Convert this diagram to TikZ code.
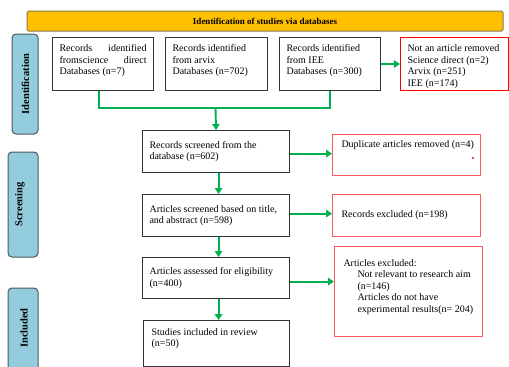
\documentclass[tikz,border=0pt]{standalone}
\usepackage{fontspec}
\setmainfont{Liberation Serif}
\usetikzlibrary{arrows.meta}
\definecolor{hdrfill}{HTML}{FFC000}
\definecolor{hdrdraw}{HTML}{8C7A4A}
\definecolor{barfill}{HTML}{93CDDD}
\definecolor{bardraw}{HTML}{4A5A60}
\definecolor{flowgreen}{HTML}{00B050}
\definecolor{boxdraw}{HTML}{333333}
\definecolor{softred}{HTML}{FF5A5A}
\newcommand\tbx[4]{\parbox[c][#2pt][t]{#1pt}{\vspace*{#3pt}#4}}
\newcommand\cbx[3]{\parbox[c][#2pt][c]{#1pt}{#3}}
\tikzset{
  every node/.style={font=\fontsize{10}{11.5}\selectfont},
  blackbox/.style={draw=boxdraw, line width=1.1pt, inner ysep=0pt, inner xsep=7pt, anchor=north west, fill=white},
  redbox/.style={draw=softred, line width=1pt, inner ysep=0pt, inner xsep=9pt, anchor=north west, fill=white},
  sidebar/.style={draw=bardraw, fill=barfill, line width=1pt, rounded corners=4pt},
  sidetext/.style={rotate=90, font=\fontsize{10.5}{12}\selectfont\bfseries},
  arr/.style={draw=flowgreen, line width=1.9pt, -{Triangle[length=6pt,width=7.5pt]}},
  link/.style={draw=flowgreen, line width=1.9pt},
}
\begin{document}
\begin{tikzpicture}[x=1pt,y=-1pt]
\useasboundingbox (0,0) rectangle (509,367);
\clip (0,0) rectangle (509,367);
% header
\node[draw=hdrdraw, fill=hdrfill, line width=1pt, rounded corners=1.5pt, minimum width=476pt, minimum height=20pt, inner sep=0pt, font=\fontsize{9}{10}\selectfont\bfseries] (hdr) at (265,21) {Identification of studies via databases};
% side bars
\draw[sidebar] (12,34) rectangle (38,134);
\node[sidetext] (idt) at (25.5,84) {Identification};
\draw[sidebar] (8,152) rectangle (38,257);
\node[sidetext] (scr) at (20,204.5) {Screening};
\draw[sidebar] (8,288) rectangle (38,390);
\node[sidetext] (inc) at (24,328) {Included};
% identification boxes
\node[blackbox] (b1) at (52,37) {\tbx{87}{53}{7.2}{Records identified\linebreak fromscience direct\linebreak Databases (n=7)}};
\node[blackbox] (b2) at (165,37) {\tbx{88}{53}{7.2}{\raggedright Records identified\\ from arvix\\ Databases (n=702)}};
\node[blackbox] (b3) at (279,37) {\tbx{87}{53}{7.2}{\raggedright Records identified\\ from IEE\\ Databases (n=300)}};
\node[redbox, draw=red, inner xsep=7pt] (b4) at (400,37) {\tbx{94}{53}{7.2}{\raggedright Not an article removed\\ Science direct (n=2)\\ Arvix (n=251)\\ IEE (n=174)}};
% screening
\node[blackbox] (s1) at (142,130) {\cbx{133}{42}{\raggedright Records screened from the\\ database (n=602)}};
\node[redbox] (d1) at (332,134) {\tbx{130}{41}{6}{\raggedright\mbox{Duplicate articles removed (n=4)}}};
\node[blackbox] (s2) at (142,194) {\cbx{133}{42}{\raggedright Articles screened based on title,\\ and abstract (n=598)}};
\node[redbox] (r2) at (332,194) {\cbx{130}{42}{\raggedright Records excluded (n=198)}};
\node[blackbox] (s3) at (142,257) {\cbx{133}{41}{\raggedright Articles assessed for eligibility\\ (n=400)}};
\node[redbox] (r3) at (334,246) {\tbx{130}{90}{12.7}{\raggedright Articles excluded:\\ \hspace*{14pt}Not relevant to research aim\\ \hspace*{14pt}(n=146)\\ \hspace*{14pt}Articles do not have\\ \hspace*{14pt}experimental results(n= 204)}};
\node[blackbox, inner xsep=8pt] (s4) at (143,320) {\tbx{130}{46}{7.7}{\raggedright Studies included in review\\ (n=50)}};
\node[circle, fill=red, inner sep=0pt, minimum size=2.2pt] (dot) at (473,158) {};
% connectors
\coordinate (j) at (215.5,108);
\draw[link] ([xshift=-4.5pt]b1.south) |- (j) -| (b3.south);
\draw[arr] (j) -- (s1.north);
\draw[arr] (b3.east) -- (b4.west);
\draw[arr] ([yshift=-2pt]s1.east) -- ([yshift=-2pt]s1.east -| d1.west);
\draw[arr] ([xshift=2.5pt]s1.south) -- ([xshift=2.5pt]s2.north);
\draw[arr] ([yshift=2pt]s2.east) -- ([yshift=2pt]s2.east -| r2.west);
\draw[arr] ([xshift=2.5pt]s2.south) -- ([xshift=2.5pt]s3.north);
\draw[arr] ([yshift=-3.5pt]s3.east) -- ([yshift=-3.5pt]s3.east -| r3.west);
\draw[arr] ([xshift=2.5pt]s3.south) -- ([xshift=2.5pt]s3.south |- s4.north);
\end{tikzpicture}
\end{document}
